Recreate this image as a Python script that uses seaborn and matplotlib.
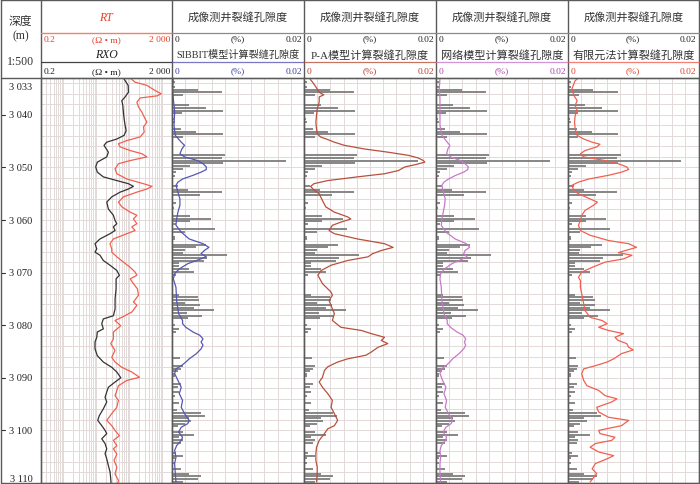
import numpy as np
import pandas as pd
import matplotlib
matplotlib.use("Agg")
import matplotlib.pyplot as plt
from matplotlib.ticker import NullLocator
import seaborn as sns

# ---------------- data ----------------
rxo_depth = [3033.0, 3034.4, 3035.7, 3036.6, 3037.3, 3038.2, 3039.5, 3040.8, 3042.0, 3043.0,
             3043.9, 3044.6, 3045.2, 3045.8, 3047.1, 3048.0, 3049.0, 3049.9, 3050.9, 3051.8,
             3052.5, 3053.1, 3053.6, 3054.1, 3054.7, 3055.6, 3056.6, 3057.9, 3059.1, 3060.1,
             3060.7, 3061.3, 3062.0, 3062.6, 3063.6, 3064.5, 3065.5, 3066.1, 3066.7, 3067.7,
             3068.6, 3069.6, 3070.5,
             3071.2, 3073.1, 3075.0, 3076.9, 3078.2, 3078.8, 3079.7, 3080.7, 3081.3, 3082.3,
             3083.2, 3084.5, 3085.8, 3087.0, 3088.0, 3088.9, 3090.0, 3090.8, 3091.8, 3092.7,
             3093.7, 3094.6, 3095.9, 3097.2, 3098.1, 3099.1, 3100.0, 3100.6, 3101.6, 3102.5,
             3103.5, 3104.4, 3105.4, 3106.7, 3107.9, 3109.2, 3110.0]
rxo_value = [66.5, 92.7, 94.6, 75, 59.5, 63.8, 66.5, 70, 75, 80.5,
             70, 41.9, 20.7, 17.1, 23.2, 20.7, 10.7, 9.55, 10.7, 16.3,
             41.9, 94.6, 134, 94.6, 52.8, 29.4, 20.7, 23.2, 33, 37.1,
             41.9, 33, 37.1, 26.1, 12.9, 9.1, 10.3, 9.1, 12.9, 16.3,
             26.1, 41.9, 50.2,
             39.8, 39.8, 37.1, 37.1, 33, 16.3, 14.6, 16.3, 10.7, 10.3,
             9.1, 9.1, 10.7, 16.3, 29.4, 41.9, 55.5, 37.1, 23.2, 20.7,
             18.4, 20.7, 16.3, 12.3, 11, 14.6, 18.4, 20.7, 14.6, 18.4,
             20.7, 18.4, 20.7, 23.2, 26.1, 27.4, 28]

rt_depth = [3033.0, 3033.8, 3034.4, 3035.4, 3036.0, 3036.4, 3036.8, 3037.6, 3038.5, 3039.5,
            3040.4, 3041.4, 3042.3, 3043.3, 3044.2, 3044.9, 3045.5, 3046.1, 3046.8, 3047.4,
            3048.0, 3048.7, 3049.3, 3050.3, 3051.2, 3052.2, 3053.1, 3053.6, 3054.1, 3054.7,
            3055.6, 3056.6, 3057.5, 3058.5, 3059.1, 3059.8, 3060.7, 3061.3, 3062.0, 3062.6,
            3063.6, 3064.5, 3065.5, 3066.1, 3067.0, 3068.0, 3069.0, 3069.9, 3070.5,
            3071.2, 3072.1, 3073.1, 3074.3, 3075.6, 3076.2, 3077.5, 3078.5, 3079.1, 3080.1,
            3081.3, 3082.6, 3083.5, 3084.8, 3086.1, 3087.0, 3088.0, 3088.9, 3089.9, 3090.5,
            3091.5, 3092.4, 3093.4, 3094.3, 3095.6, 3096.8, 3098.1, 3099.1, 3100.0, 3101.0,
            3101.9, 3102.9, 3103.5, 3104.5, 3105.7, 3107.0, 3108.3, 3109.5, 3110.0]
rt_value = [107, 151, 345, 618, 942, 697, 215, 171, 191, 243,
            285, 345, 272, 285, 215, 84.5, 47, 53, 107, 243,
            345, 107, 47, 37, 42, 84.5, 272, 490, 345, 171,
            66.5, 47, 59.5, 107, 171, 134, 171, 120, 151, 84.5,
            33, 26, 29.4, 29.4, 42, 66.5, 107, 151, 171,
            107, 134, 178, 191, 134, 171, 120, 59.5, 37, 55,
            33, 33, 27.4, 37, 29.4, 37, 59.5, 120, 205, 84.5,
            47, 42, 37, 47, 42, 29.4, 20.7, 29.4, 37, 50,
            33, 42, 33, 42, 34.6, 42, 37, 47, 45]

# imaging-log fracture porosity (bars, same in every porosity track)
img_depth = [3033.8, 3034.7, 3035.2, 3035.7, 3036.2, 3038.1, 3038.7, 3039.2, 3039.7, 3040.8,
             3041.3, 3042.7, 3043.2, 3043.7, 3044.2, 3047.7, 3048.2, 3048.7, 3049.2, 3049.8,
             3050.3, 3050.8, 3051.7, 3053.6, 3054.2, 3054.7, 3055.2, 3056.7, 3057.7, 3058.3,
             3059.2, 3059.8, 3060.2, 3060.7, 3061.8, 3062.3, 3063.3, 3063.7, 3064.2, 3064.7,
             3065.2, 3065.7, 3066.2, 3066.7, 3067.2, 3067.8, 3068.2, 3068.8, 3069.3, 3069.8,
             3070.5,
             3072.8, 3073.3, 3074.2, 3074.7, 3075.2, 3075.7, 3076.2, 3076.7, 3077.2, 3077.7,
             3078.2, 3078.7, 3080.0, 3080.7, 3081.3, 3081.8, 3086.2, 3087.2, 3087.8, 3088.3,
             3088.7, 3089.2, 3089.7, 3091.1, 3091.8, 3092.7, 3093.4, 3094.2, 3094.7, 3096.2,
             3096.7, 3097.2, 3097.7, 3098.2, 3098.7, 3099.2, 3100.3, 3100.8, 3101.3, 3101.8,
             3102.3, 3103.2, 3104.3, 3104.8, 3105.3, 3106.2, 3106.8, 3107.3, 3108.2, 3108.7,
             3109.2, 3109.8]
img_value = [0.0004, 0.0005, 0.0039, 0.0076, 0.0017, 0.0026, 0.0052, 0.0077, 0.0015, 0.0003,
             0.0005, 0.0014, 0.0037, 0.0077, 0.0016, 0.0081, 0.0075, 0.0173, 0.0077, 0.0028,
             0.0016, 0.0006, 0.0005, 0.0009, 0.0024, 0.0075, 0.0043, 0.0006, 0.0003, 0.0002,
             0.0028, 0.0059, 0.0027, 0.0006, 0.0065, 0.0019, 0.0004, 0.0004, 0.0002, 0.0052,
             0.0036, 0.0019, 0.0017, 0.0084, 0.0053, 0.0049, 0.0010, 0.0010, 0.0025, 0.0033,
             0.0006,
             0.0002, 0.0002, 0.0010, 0.0039, 0.0041, 0.0019, 0.0042, 0.0034, 0.0064, 0.0022,
             0.0046, 0.0024, 0.0005, 0.0010, 0.0006, 0.0002, 0.0012, 0.0002, 0.0016, 0.0014,
             0.0009, 0.0004, 0.0005, 0.0014, 0.0009, 0.0010, 0.0005, 0.0002, 0.0010, 0.0007,
             0.0044, 0.0050, 0.0025, 0.0029, 0.0019, 0.0009, 0.0016, 0.0033, 0.0011, 0.0016,
             0.0014, 0.0002, 0.0006, 0.0016, 0.0005, 0.0004, 0.0002, 0.0014, 0.0025, 0.0044,
             0.0039, 0.0017]

sib_depth = [3033.0, 3035.05, 3036.95, 3039.5, 3042.0, 3043.9, 3045.2, 3045.8, 3046.5, 3047.4,
             3048.0, 3048.7, 3049.3, 3049.9, 3050.4, 3050.9, 3051.5, 3052.2, 3052.8, 3053.4,
             3054.7, 3056.0, 3057.2, 3058.5, 3059.8, 3061.0, 3062.3, 3063.6, 3064.5, 3065.2,
             3065.8, 3066.4, 3067.0, 3067.7, 3068.3, 3069.3, 3070.2, 3071.2,
             3072.8, 3075.3, 3077.8, 3079.1, 3079.7, 3080.4, 3081.3, 3081.9, 3082.6, 3083.2,
             3083.8, 3084.5, 3085.4, 3086.4, 3087.0, 3087.7, 3088.3, 3089.2, 3090.5, 3091.8,
             3093.0, 3094.3, 3095.6, 3096.8, 3098.1, 3098.7, 3099.4, 3100.3, 3101.3, 3101.9,
             3102.9, 3103.8, 3105.1, 3106.3, 3108.2, 3109.8]
sib_value = [0.0002, 0.0001, 0.0002, 0.0004, 0.0003, 0.0005, 0.0014, 0.0019, 0.0015, 0.0012,
             0.0019, 0.0039, 0.0047, 0.0052, 0.0052, 0.0044, 0.0032, 0.0016, 0.0009, 0.0006,
             0.0009, 0.0012, 0.0012, 0.0009, 0.0007, 0.0006, 0.0014, 0.0026, 0.0047, 0.0056,
             0.0049, 0.0044, 0.0052, 0.0037, 0.0024, 0.0011, 0.0004, 0.0002,
             0.0006, 0.0007, 0.0010, 0.0016, 0.0016, 0.0021, 0.0032, 0.0042, 0.0047, 0.0044,
             0.0047, 0.0044, 0.0037, 0.0026, 0.0021, 0.0014, 0.0006, 0.0004, 0.0009, 0.0014,
             0.0011, 0.0016, 0.0014, 0.0019, 0.0026, 0.0024, 0.0014, 0.0010, 0.0016, 0.0014,
             0.0007, 0.0004, 0.0006, 0.0004, 0.0005, 0.0006]

net_value = [0.0006, 0.0005, 0.0006, 0.0006, 0.0006, 0.0009, 0.0017, 0.0021, 0.0018, 0.0016,
             0.0022, 0.0037, 0.0044, 0.0049, 0.0048, 0.0042, 0.0030, 0.0019, 0.0012, 0.0009,
             0.0011, 0.0014, 0.0013, 0.0011, 0.0009, 0.0008, 0.0015, 0.0029, 0.0046, 0.0051,
             0.0044, 0.0042, 0.0047, 0.0035, 0.0024, 0.0013, 0.0007, 0.0006,
             0.0008, 0.0009, 0.0012, 0.0017, 0.0017, 0.0022, 0.0032, 0.0041, 0.0045, 0.0043,
             0.0045, 0.0042, 0.0035, 0.0025, 0.0021, 0.0015, 0.0008, 0.0006, 0.0010, 0.0015,
             0.0012, 0.0016, 0.0014, 0.0019, 0.0025, 0.0023, 0.0015, 0.0011, 0.0016, 0.0014,
             0.0008, 0.0006, 0.0007, 0.0006, 0.0006, 0.0007]

pa_depth = [3033.0, 3033.8, 3034.7, 3035.7, 3036.2, 3036.6, 3037.6, 3038.9, 3040.1, 3041.4,
            3042.7, 3043.6, 3044.2, 3044.8, 3045.2, 3045.8, 3046.5, 3047.1, 3047.7, 3048.2,
            3048.7, 3049.0, 3049.5, 3049.9, 3050.6, 3051.2, 3051.8, 3052.5, 3053.1, 3053.6,
            3054.3, 3055.0, 3056.3, 3057.5, 3058.5, 3059.4, 3059.8, 3060.4, 3061.0, 3062.0,
            3062.6, 3063.6, 3064.5, 3065.2, 3065.8, 3066.4, 3067.0, 3067.7, 3068.6, 3069.6,
            3070.5,
            3072.1, 3073.7, 3074.3, 3075.3, 3076.6, 3077.8, 3079.1, 3080.4, 3081.0, 3081.6,
            3082.3, 3082.9, 3083.5, 3084.2, 3085.1, 3085.7, 3086.4, 3087.0, 3087.9, 3088.6,
            3089.9, 3090.8, 3091.8, 3093.0, 3094.3, 3095.6, 3096.8, 3098.1, 3099.1, 3099.7,
            3100.6, 3101.9, 3103.2, 3104.4, 3105.7, 3107.0, 3108.2, 3109.8]
pa_value = [0.0008, 0.0013, 0.0018, 0.0023, 0.0030, 0.0023, 0.0023, 0.0020, 0.0019, 0.0018,
            0.0019, 0.0020, 0.0025, 0.0038, 0.0046, 0.0061, 0.0092, 0.0127, 0.0158, 0.0173,
            0.0181, 0.0183, 0.0168, 0.0153, 0.0143, 0.0122, 0.0081, 0.0036, 0.0015, 0.0010,
            0.0015, 0.0023, 0.0028, 0.0033, 0.0046, 0.0066, 0.0071, 0.0056, 0.0043, 0.0038,
            0.0046, 0.0081, 0.0122, 0.0135, 0.0117, 0.0104, 0.0097, 0.0066, 0.0041, 0.0026,
            0.0021,
            0.0028, 0.0041, 0.0043, 0.0038, 0.0042, 0.0046, 0.0043, 0.0056, 0.0087, 0.0102,
            0.0122, 0.0117, 0.0127, 0.0112, 0.0102, 0.0094, 0.0066, 0.0051, 0.0036, 0.0031,
            0.0028, 0.0023, 0.0028, 0.0036, 0.0043, 0.0041, 0.0046, 0.0051, 0.0046, 0.0036,
            0.0031, 0.0023, 0.0019, 0.0018, 0.0018, 0.0020, 0.0020, 0.0019]

fe_depth = [3033.0, 3033.5, 3034.1, 3035.05, 3036.3, 3037.3, 3038.2, 3039.2, 3040.1, 3041.4,
            3042.7, 3043.9, 3044.6, 3045.2, 3045.6, 3046.1, 3046.8, 3047.4, 3048.0, 3048.7,
            3049.3, 3049.9, 3050.4, 3050.9, 3051.5, 3052.2, 3052.8, 3053.4, 3054.4, 3055.0,
            3056.0, 3056.6, 3057.2, 3058.2, 3059.1, 3060.1, 3061.0, 3062.0, 3062.9, 3063.9,
            3064.5, 3065.2, 3065.8, 3066.2, 3066.7, 3067.4, 3068.0, 3069.0, 3069.9, 3070.9,
            3071.5, 3072.8, 3074.0, 3075.9, 3077.2, 3078.5, 3079.1, 3079.7, 3080.4, 3081.0,
            3081.6, 3082.3, 3082.9, 3083.5, 3084.2, 3084.7, 3085.4, 3086.4, 3087.0, 3087.7,
            3088.3, 3089.2, 3090.5, 3091.5, 3092.4, 3093.4, 3094.0, 3094.6, 3095.6, 3096.5,
            3097.5, 3098.1, 3099.1, 3100.0, 3100.6, 3101.3, 3101.9, 3102.5, 3103.2, 3104.1,
            3104.8, 3105.4, 3106.3, 3107.3, 3108.2, 3109.0, 3109.8]
fe_value = [0.0016, 0.0011, 0.0009, 0.0006, 0.0009, 0.0014, 0.0011, 0.0014, 0.0011, 0.0010,
            0.0011, 0.0014, 0.0024, 0.0037, 0.0049, 0.0044, 0.0026, 0.0019, 0.0024, 0.0057,
            0.0077, 0.0090, 0.0093, 0.0082, 0.0062, 0.0032, 0.0016, 0.0006, 0.0009, 0.0016,
            0.0034, 0.0045, 0.0039, 0.0026, 0.0021, 0.0019, 0.0016, 0.0019, 0.0034, 0.0062,
            0.0093, 0.0105, 0.0088, 0.0077, 0.0098, 0.0085, 0.0057, 0.0037, 0.0021, 0.0016,
            0.0019, 0.0019, 0.0021, 0.0024, 0.0026, 0.0034, 0.0052, 0.0060, 0.0047, 0.0062,
            0.0085, 0.0072, 0.0077, 0.0090, 0.0093, 0.0100, 0.0082, 0.0070, 0.0060, 0.0042,
            0.0024, 0.0021, 0.0024, 0.0029, 0.0047, 0.0057, 0.0075, 0.0067, 0.0044, 0.0047,
            0.0062, 0.0093, 0.0082, 0.0047, 0.0049, 0.0072, 0.0067, 0.0042, 0.0034, 0.0047,
            0.0070, 0.0060, 0.0042, 0.0037, 0.0044, 0.0039, 0.0034]

depth_ticks = [3040, 3050, 3060, 3070, 3080, 3090, 3100]
track_titles = ["成像测井裂缝孔隙度"] * 4
model_titles = ["SIBBIT模型计算裂缝孔隙度", "P-A模型计算裂缝孔隙度",
                "网络模型计算裂缝孔隙度", "有限元法计算裂缝孔隙度"]

# ---------------- style ----------------
sns.set_style("white")
plt.rcParams["font.family"] = ["Liberation Serif", "Noto Sans CJK SC", "DejaVu Sans"]

W, H = 700, 485
TOP, BOT = 79, 484
edges = [1, 40.5, 172, 304, 436, 568, 698.5]
DMIN, DMAX = 3033, 3110
GRID = "#e3d9d9"
BORDER = "#5a5a5a"
C_RT, C_RXO = "#f0604f", "#333333"
model_colors = ["#5656b4", "#b8503c", "#c77ac7", "#f0604f"]
text_colors = ["#3c3ca8", "#c0392b", "#b045b0", "#e8402a"]

fig = plt.figure(figsize=(7, 4.85), dpi=100)


def rect(x0, y0, x1, y1):
    return [x0 / W, 1 - y1 / H, (x1 - x0) / W, (y1 - y0) / H]


def style_track(ax):
    ax.set_ylim(DMAX, DMIN)
    ax.set_yticks(np.arange(3034, 3111, 2))
    ax.tick_params(length=0, labelleft=False, labelbottom=False)
    ax.grid(True, color=GRID, lw=0.7)
    ax.set_axisbelow(True)
    ax.set_xlabel("")
    ax.set_ylabel("")
    for s in ax.spines.values():
        s.set_color(BORDER)
        s.set_linewidth(0.9)


def curve(ax, x, y, color, lw=0.9):
    df = pd.DataFrame({"v": x, "d": y})
    sns.lineplot(data=df, x="v", y="d", orient="y", sort=False, estimator=None,
                 color=color, lw=lw, ax=ax, zorder=4)


# depth column
axd = fig.add_axes(rect(edges[0], TOP, edges[1], BOT))
axd.set_xlim(0, edges[1] - edges[0])
axd.set_ylim(DMAX, DMIN)
axd.set_xticks([]); axd.set_yticks([])
for s in axd.spines.values():
    s.set_visible(False)
for d in depth_ticks:
    axd.plot([0, 3.5], [d, d], color="#333", lw=0.8)
    axd.text(20, d, f"{d // 1000} {d % 1000:03d}", ha="center", va="center",
             fontsize=7.5, color="#222")
axd.annotate("3 033", xy=(20, DMIN), xytext=(0, -8), textcoords="offset pixels",
             ha="center", va="center", fontsize=7.5, color="#222")
axd.annotate("3 110", xy=(20, DMAX), xytext=(0, 5), textcoords="offset pixels",
             ha="center", va="center", fontsize=7.5, color="#222")

# resistivity track
axr = fig.add_axes(rect(edges[1], TOP, edges[2], BOT))
axr.set_xscale("log")
curve(axr, rxo_value, rxo_depth, C_RXO)
curve(axr, rt_value, rt_depth, C_RT)
axr.set_xlim(0.2, 2000)
log_grid = [m * 10.0 ** e for e in range(-1, 4) for m in range(1, 10)]
log_grid = [v for v in log_grid if 0.2 <= v <= 2000]
axr.set_xticks(log_grid)
axr.xaxis.set_minor_locator(NullLocator())
style_track(axr)

# porosity tracks
model_series = [(sib_value, sib_depth), (pa_value, pa_depth),
                (net_value, sib_depth), (fe_value, fe_depth)]
for i in range(4):
    ax = fig.add_axes(rect(edges[i + 2], TOP, edges[i + 3], BOT))
    ax.hlines(img_depth, 0, img_value, color="#7d7d7d", lw=1.3, zorder=3)
    v, d = model_series[i]
    curve(ax, v, d, model_colors[i])
    ax.set_xlim(0, 0.02)
    ax.set_xticks(np.linspace(0, 0.02, 11))
    style_track(ax)

# ---------------- header / frame overlay ----------------
ov = fig.add_axes([0, 0, 1, 1])
ov.set_xlim(0, W)
ov.set_ylim(H, 0)
ov.axis("off")
ov.patch.set_alpha(0)
ov.set_zorder(10)

lk = dict(color=BORDER, lw=1.0)
ov.plot([edges[0], edges[-1], edges[-1], edges[0], edges[0]], [1, 1, BOT, BOT, 1], **lk)
for x in edges[1:-1]:
    ov.plot([x, x], [1, BOT], **lk)
ov.plot([edges[0], edges[-1]], [TOP, TOP], **lk)

# depth header
ov.text(20.5, 22, "深度", ha="center", va="center", fontsize=8.5, color="#333")
ov.text(20.5, 36, "(m)", ha="center", va="center", fontsize=8.5, color="#333")
ov.text(20.5, 62, "1:500", ha="center", va="center", fontsize=8.5, color="#333")

# resistivity header
x0, x1 = edges[1], edges[2]
cx = (x0 + x1) / 2
ov.text(cx, 18, "RT", ha="center", va="center", fontsize=8.5, style="italic", color="#e8402a")
ov.plot([x0, x1], [33.5, 33.5], color="#f08070", lw=1.0)
ov.text(x0 + 3, 40.5, "0.2", ha="left", va="center", fontsize=6.8, color="#e8402a")
ov.text(cx, 40.5, "(Ω • m)", ha="center", va="center", fontsize=6.8, color="#e8402a")
ov.text(x1 - 2, 40.5, "2 000", ha="right", va="center", fontsize=6.8, color="#e8402a")
ov.text(cx, 55, "RXO", ha="center", va="center", fontsize=8.5, style="italic", color="#222")
ov.plot([x0, x1], [63, 63], color="#444", lw=0.9)
ov.text(x0 + 3, 72, "0.2", ha="left", va="center", fontsize=6.8, color="#222")
ov.text(cx, 72, "(Ω • m)", ha="center", va="center", fontsize=6.8, color="#222")
ov.text(x1 - 2, 72, "2 000", ha="right", va="center", fontsize=6.8, color="#222")

# porosity headers
for i in range(4):
    x0, x1 = edges[i + 2], edges[i + 3]
    cx = (x0 + x1) / 2
    ov.text(cx, 17, track_titles[i], ha="center", va="center", fontsize=8, color="#333")
    ov.plot([x0, x1], [33.5, 33.5], color="#8a8a8a", lw=0.9)
    ov.text(x0 + 3, 40.5, "0", ha="left", va="center", fontsize=6.8, color="#222")
    ov.text(cx, 39.5, "(%)", ha="center", va="center", fontsize=6.8, color="#222")
    ov.text(x1 - 2, 40.5, "0.02", ha="right", va="center", fontsize=6.8, color="#222")
    fs = 7.3 if i == 0 else 8
    ov.text(cx, 55, model_titles[i], ha="center", va="center", fontsize=fs, color="#333")
    ov.plot([x0, x1], [63, 63], color=model_colors[i], lw=0.9, alpha=0.8)
    ov.text(x0 + 3, 72, "0", ha="left", va="center", fontsize=6.8, color=text_colors[i])
    ov.text(cx, 71, "(%)", ha="center", va="center", fontsize=6.8, color=text_colors[i])
    ov.text(x1 - 2, 72, "0.02", ha="right", va="center", fontsize=6.8, color=text_colors[i])

fig.savefig("out.png", dpi=100)
